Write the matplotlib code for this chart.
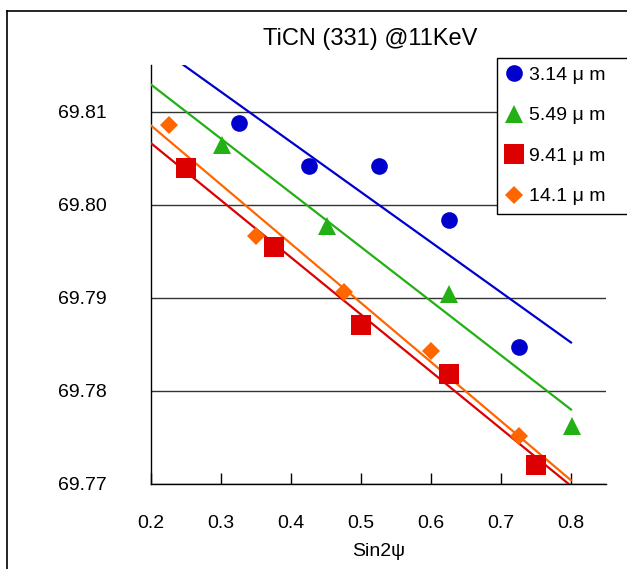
import matplotlib
matplotlib.use("Agg")
import matplotlib.pyplot as plt
from matplotlib.lines import Line2D

plt.rcParams['font.family'] = ['Liberation Sans', 'DejaVu Sans']

# --- data ---
labels = ["3.14 μ m", "5.49 μ m", "9.41 μ m", "14.1 μ m"]
x_314 = [0.325, 0.425, 0.525, 0.625, 0.725]
y_314 = [69.8088, 69.8042, 69.8042, 69.7983, 69.7847]
x_549 = [0.301, 0.451, 0.626, 0.801]
y_549 = [69.8064, 69.7977, 69.7904, 69.7762]
x_941 = [0.25, 0.375, 0.50, 0.625, 0.75]
y_941 = [69.8039, 69.7955, 69.7871, 69.7818, 69.7720]
x_141 = [0.225, 0.35, 0.475, 0.60, 0.725]
y_141 = [69.8086, 69.7966, 69.7906, 69.7843, 69.7752]
# trend line end points (x = 0.2 and x = 0.8)
fit_x = [0.2, 0.8]
fit_314 = [69.8175, 69.7852]
fit_549 = [69.8129, 69.7780]
fit_941 = [69.8066, 69.7698]
fit_141 = [69.8085, 69.7704]

xticks = [0.2, 0.3, 0.4, 0.5, 0.6, 0.7, 0.8]
yticks = [69.77, 69.78, 69.79, 69.80, 69.81]

colors = ['#0000cc', '#22b014', '#dd0000', '#ff6600']
markers = ['o', '^', 's', 'D']
msizes = [12, 13, 14, 9.5]

W, H = 627, 569
fig = plt.figure(figsize=(W / 100, H / 100), dpi=100)
ax = fig.add_axes([151 / W, 1 - 484 / H, (606 - 151) / W, (484 - 65) / H])

series = [(x_314, y_314, fit_314), (x_549, y_549, fit_549),
          (x_941, y_941, fit_941), (x_141, y_141, fit_141)]
handles = []
for (xs, ys, fy), c, m, ms, lab in zip(series, colors, markers, msizes, labels):
    ax.plot(fit_x, fy, color=c, lw=1.6, zorder=3)
    ax.plot(xs, ys, linestyle='none', marker=m, color=c, markersize=ms,
            markeredgewidth=0, zorder=4)
    handles.append(Line2D([], [], linestyle='none', marker=m, color=c,
                          markersize=ms, markeredgewidth=0, label=lab))

ax.set_xlim(0.2, 0.85)
ax.set_ylim(69.77, 69.815)
ax.set_xticks(xticks)
ax.set_xticklabels([f"{v:.1f}" for v in xticks])
ax.set_yticks(yticks)
ax.set_yticklabels([f"{v:.2f}" for v in yticks])
ax.yaxis.grid(True, color='#333333', lw=1.0)
ax.set_axisbelow(True)
for s in ['top', 'right']:
    ax.spines[s].set_visible(False)
for s in ['left', 'bottom']:
    ax.spines[s].set_color('black')
    ax.spines[s].set_linewidth(1.0)
ax.tick_params(axis='x', direction='in', length=8, width=1, pad=22, labelsize=14)
ax.tick_params(axis='y', direction='in', length=0, pad=32, labelsize=14)
ax.set_xlabel("Sin2ψ", fontsize=14, labelpad=8)

fig.text(370 / W, 1 - 39 / H, "TiCN (331) @11KeV", ha='center', va='center',
         fontsize=17)

leg_x0, leg_x1, leg_top = 497 / W, 640 / W, 1 - 58 / H
leg = fig.legend(handles=handles, loc='upper left',
                 bbox_to_anchor=(leg_x0, leg_top - 0.01, leg_x1 - leg_x0, 0.01),
                 mode='expand', borderaxespad=0,
                 fontsize=14, frameon=True, fancybox=False, framealpha=1.0,
                 handlelength=0.9, handletextpad=0.35, labelspacing=1.18,
                 borderpad=0.42)
leg.get_frame().set_edgecolor('black')
leg.get_frame().set_facecolor('white')
leg.get_frame().set_linewidth(1.0)

# outer chart-area frame (cut off at right and bottom)
fig.add_artist(Line2D([7 / W, 7 / W], [0, 1 - 11 / H], color='black', lw=1.2,
                      transform=fig.transFigure))
fig.add_artist(Line2D([7 / W, 1], [1 - 11 / H, 1 - 11 / H], color='black', lw=1.2,
                      transform=fig.transFigure))

fig.savefig("out.png", dpi=100)
